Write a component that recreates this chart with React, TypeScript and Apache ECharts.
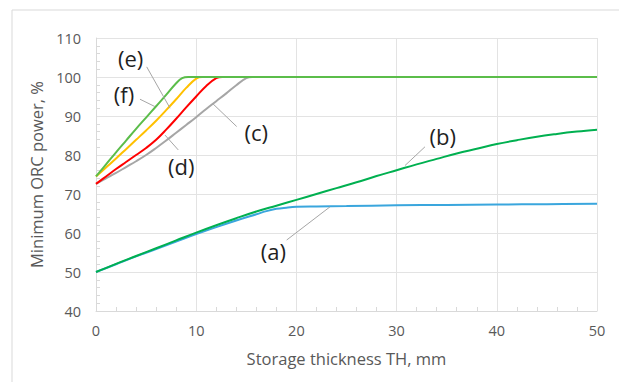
import React, { useEffect, useRef } from "react";
import * as echarts from "echarts";

// x positions (mm) and values (%) for each curve
const xA = [0, 2, 4, 6, 8, 10, 12, 14, 16, 17, 18, 19, 20, 22, 25, 30, 35, 40, 45, 50];
const yA = [50, 52, 54, 55.9, 57.8, 59.7, 61.5, 63.2, 64.8, 65.6, 66.2, 66.5, 66.7, 66.8, 66.9, 67.1, 67.2, 67.3, 67.4, 67.5];

const xB = [0, 2, 4, 6, 8, 10, 12, 14, 16, 18, 20, 22, 24, 26, 28, 30, 32, 34, 36, 38, 40, 42, 44, 46, 48, 50];
const yB = [50, 52.1, 54.1, 56.1, 58.1, 60.1, 62, 63.8, 65.5, 67, 68.5, 70, 71.5, 73, 74.6, 76.1, 77.6, 79, 80.4, 81.6, 82.8, 83.8, 84.7, 85.4, 86, 86.5];

const xC = [0, 1, 2, 3, 4, 5, 6, 7, 8, 9, 10, 11, 12, 13, 14, 15, 15.6, 17, 20, 30, 40, 50];
const yC = [72.6, 74, 75.4, 76.9, 78.4, 80, 81.8, 83.7, 85.7, 87.7, 89.7, 91.8, 93.8, 95.8, 97.9, 99.7, 100, 100, 100, 100, 100, 100];

const xD = [0, 1, 2, 3, 4, 5, 6, 7, 8, 9, 10, 11, 12, 12.6, 14, 20, 30, 40, 50];
const yD = [72.6, 74.5, 76.4, 78.2, 80, 81.8, 83.9, 86.5, 89.3, 92.2, 95, 97.7, 99.7, 100, 100, 100, 100, 100, 100];

const xE = [0, 1, 2, 3, 4, 5, 6, 7, 8, 9, 10, 10.6, 12, 20, 30, 40, 50];
const yE = [74.5, 76.8, 79.1, 81.5, 83.9, 86.3, 88.8, 91.5, 94.3, 97.2, 99.6, 100, 100, 100, 100, 100, 100];

const xF = [0, 1, 2, 3, 4, 5, 6, 7, 8, 8.6, 9.2, 10.5, 20, 30, 40, 50];
const yF = [74.5, 77.6, 80.7, 83.7, 86.7, 89.6, 92.5, 95.4, 98.4, 99.7, 100, 100, 100, 100, 100, 100];

const seriesNames = ["(a)", "(b)", "(c)", "(d)", "(e)", "(f)"];
const seriesColors = ["#3AA6DD", "#00B050", "#A6A6A6", "#FF0000", "#FFC000", "#5BBD4A"];
const seriesX = [xA, xB, xC, xD, xE, xF];
const seriesY = [yA, yB, yC, yD, yE, yF];

// annotation labels and leader lines, in data units
const annLabels = ["(e)", "(f)", "(c)", "(d)", "(a)", "(b)"];
const annLabelPos = [
  [3.45, 105.0],
  [2.8, 95.6],
  [16.0, 86.0],
  [8.5, 77.3],
  [17.7, 55.5],
  [34.6, 84.9],
];
const annLeaderFrom = [
  [5.06, 102.6],
  [4.39, 94.3],
  [14.04, 87.3],
  [8.21, 81.3],
  [19.03, 58.2],
  [32.83, 82.1],
];
const annLeaderTo = [
  [7.39, 92.0],
  [5.89, 92.4],
  [11.68, 93.1],
  [6.89, 85.1],
  [23.35, 66.7],
  [30.84, 77.3],
];

const xTicks = { min: 0, max: 50, interval: 10 };
const yTicks = { min: 40, max: 110, interval: 10 };

const FONT = '"Open Sans", "Noto Sans", sans-serif';

export default function App() {
  const ref = useRef<HTMLDivElement>(null);
  useEffect(() => {
    document.body.style.margin = "0";
    if (!ref.current) return;
    const chart = echarts.init(ref.current, undefined, { renderer: "svg" });
    const axisCommon = {
      axisLine: { show: true, lineStyle: { color: "#D9D9D9", width: 1 } },
      axisTick: { show: false, inside: true },
      minorTick: { show: true, splitNumber: 5, length: 4, lineStyle: { color: "#D9D9D9" } },
      splitLine: { show: true, lineStyle: { color: "#E3E3E3", width: 1 } },
      axisLabel: { color: "#595959", fontSize: 14.5, fontFamily: FONT },
      nameTextStyle: { color: "#595959", fontSize: 16.5, fontFamily: FONT },
    };
    chart.setOption({
      animation: false,
      backgroundColor: "#fff",
      grid: { left: 96, right: 22, top: 38, bottom: 71, containLabel: false },
      xAxis: {
        type: "value",
        ...xTicks,
        ...axisCommon,
        axisLabel: { ...axisCommon.axisLabel, margin: 12 },
        name: "Storage thickness TH, mm",
        nameLocation: "middle",
        nameGap: 39,
      },
      yAxis: {
        type: "value",
        ...yTicks,
        ...axisCommon,
        axisLabel: { ...axisCommon.axisLabel, margin: 15 },
        name: "Minimum ORC power, %",
        nameLocation: "middle",
        nameGap: 46,
      },
      series: seriesNames.map((n, i) => ({
        name: n,
        type: "line",
        data: seriesX[i].map((x, j) => [x, seriesY[i][j]]),
        showSymbol: false,
        smooth: 0.4,
        lineStyle: { color: seriesColors[i], width: 2 },
        itemStyle: { color: seriesColors[i] },
        z: 2 + i,
      })),
    });

    const px = (p: number[]) => chart.convertToPixel({ gridIndex: 0 }, p) as number[];
    const graphics: any[] = [
      { type: "line", shape: { x1: 12, y1: 10, x2: 619, y2: 10 }, style: { stroke: "#D9D9D9", lineWidth: 1 } },
      { type: "line", shape: { x1: 12, y1: 10, x2: 12, y2: 382 }, style: { stroke: "#D9D9D9", lineWidth: 1 } },
    ];
    annLabels.forEach((t, i) => {
      const a = px(annLeaderFrom[i]);
      const b = px(annLeaderTo[i]);
      const c = px(annLabelPos[i]);
      graphics.push({
        type: "line",
        z: 100,
        shape: { x1: a[0], y1: a[1], x2: b[0], y2: b[1] },
        style: { stroke: "#A6A6A6", lineWidth: 1 },
      });
      graphics.push({
        type: "text",
        z: 100,
        x: c[0],
        y: c[1],
        style: {
          text: t,
          fill: "#1F1F1F",
          font: `22px ${FONT}`,
          align: "center",
          verticalAlign: "middle",
          textAlign: "center",
          textVerticalAlign: "middle",
        },
      });
    });
    chart.setOption({ graphic: graphics });

    return () => chart.dispose();
  }, []);
  return <div ref={ref} style={{ width: 619, height: 382 }} />;
}
